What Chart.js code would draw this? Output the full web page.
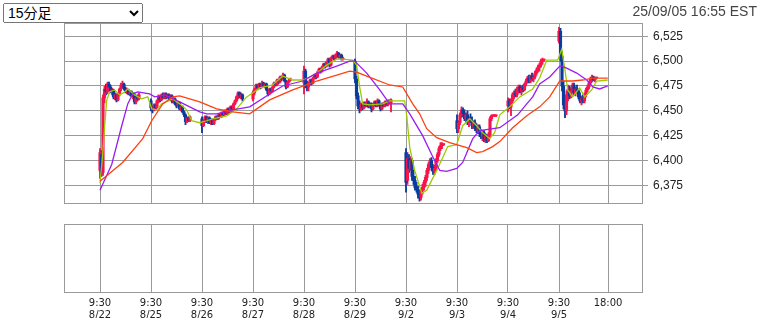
<!DOCTYPE html>
<html>
<head>
<meta charset="utf-8">
<script src="https://cdn.jsdelivr.net/npm/chart.js@4.4.1/dist/chart.umd.min.js"></script>
<style>
  body { margin: 0; background: #fff; width: 762px; height: 318px; overflow: hidden; position: relative; font-family: "Liberation Sans", Arial, sans-serif; }
  #span { position: absolute; left: 3px; top: 3px; width: 140px; height: 20px; font-size: 14px; font-family: "Liberation Sans", "Noto Sans CJK JP", sans-serif; z-index: 2; }
  #stamp { position: absolute; right: 5px; top: 3px; font-size: 14px; color: #444; z-index: 2; }
  #main { position: absolute; left: 0; top: 0; }
  #sub { position: absolute; left: 0; top: 216px; }
</style>
</head>
<body>
<select id="span"><option>15分足</option></select>
<div id="stamp">25/09/05 16:55 EST</div>
<canvas id="main" width="762" height="216"></canvas>
<canvas id="sub" width="762" height="102"></canvas>
<script>
const days = ['8/22', '8/25', '8/26', '8/27', '8/28', '8/29', '9/2', '9/3', '9/4', '9/5'];
const slotsPerDay = 34;      // 15-min slots per day on the axis
const lastTickSlot = 32.7;   // "18:00" mark after the last session
const yTicks = [6375, 6400, 6425, 6450, 6475, 6500, 6525];

// 15分足 [open, high, low, close]
const c0822 = [
  [6390, 6412, 6382, 6408], [6406, 6410, 6384, 6388], [6388, 6466, 6385, 6463], [6463, 6475, 6458, 6472],
  [6472, 6477, 6466, 6469], [6469, 6479, 6467, 6477], [6477, 6479, 6470, 6474], [6474, 6476, 6468, 6470],
  [6470, 6473, 6466, 6471], [6471, 6472, 6462, 6464], [6464, 6468, 6461, 6466], [6466, 6467, 6459, 6461],
  [6461, 6468, 6460, 6467], [6467, 6473, 6465, 6472], [6472, 6478, 6470, 6476], [6476, 6480, 6473, 6477],
  [6477, 6478, 6471, 6472], [6472, 6474, 6468, 6470], [6470, 6473, 6467, 6471], [6471, 6472, 6466, 6467],
  [6467, 6470, 6465, 6469], [6469, 6470, 6464, 6465], [6465, 6468, 6462, 6466], [6466, 6468, 6457, 6459],
  [6459, 6465, 6457, 6463], [6463, 6466, 6460, 6462], [6462, 6468, 6461, 6466]
];
const c0825 = [
  [6460, 6462, 6450, 6453], [6453, 6455, 6448, 6451], [6451, 6457, 6450, 6456], [6456, 6457, 6451, 6453],
  [6453, 6461, 6452, 6460], [6460, 6466, 6458, 6464], [6464, 6465, 6459, 6461], [6461, 6467, 6460, 6466],
  [6466, 6468, 6462, 6463], [6463, 6468, 6462, 6467], [6467, 6468, 6462, 6464], [6464, 6467, 6463, 6466],
  [6466, 6467, 6461, 6462], [6462, 6466, 6460, 6465], [6465, 6466, 6458, 6460], [6460, 6463, 6458, 6462],
  [6462, 6463, 6456, 6457], [6457, 6458, 6453, 6455], [6455, 6459, 6454, 6458], [6458, 6459, 6451, 6452],
  [6452, 6455, 6450, 6454], [6454, 6455, 6448, 6449], [6449, 6450, 6444, 6446], [6446, 6447, 6436, 6439],
  [6439, 6444, 6438, 6443], [6443, 6444, 6439, 6440], [6440, 6445, 6439, 6444]
];
const c0826 = [
  [6442, 6444, 6428, 6435], [6435, 6441, 6434, 6440], [6440, 6445, 6438, 6444], [6444, 6445, 6438, 6439],
  [6439, 6444, 6437, 6443], [6443, 6444, 6437, 6438], [6438, 6442, 6436, 6441], [6441, 6442, 6436, 6437],
  [6437, 6442, 6436, 6441], [6441, 6445, 6440, 6444], [6444, 6445, 6441, 6442], [6442, 6447, 6441, 6446],
  [6446, 6447, 6443, 6444], [6444, 6449, 6443, 6448], [6448, 6449, 6445, 6446], [6446, 6451, 6445, 6450],
  [6450, 6451, 6446, 6447], [6447, 6453, 6446, 6452], [6452, 6453, 6448, 6449], [6449, 6455, 6448, 6454],
  [6454, 6455, 6451, 6452], [6452, 6458, 6451, 6457], [6457, 6461, 6456, 6460], [6460, 6465, 6459, 6464],
  [6464, 6469, 6462, 6468], [6468, 6469, 6463, 6465], [6465, 6468, 6462, 6466], [6466, 6467, 6460, 6462]
];
const c0827 = [
  [6462, 6470, 6460, 6468], [6468, 6473, 6466, 6472], [6472, 6477, 6470, 6476], [6476, 6477, 6471, 6473],
  [6473, 6478, 6472, 6477], [6477, 6478, 6472, 6474], [6474, 6480, 6473, 6478], [6478, 6479, 6474, 6475],
  [6475, 6478, 6473, 6477], [6477, 6478, 6470, 6471], [6471, 6472, 6465, 6467], [6467, 6473, 6466, 6472],
  [6472, 6473, 6468, 6470], [6470, 6475, 6469, 6474], [6474, 6479, 6473, 6478], [6478, 6479, 6475, 6476],
  [6476, 6482, 6475, 6481], [6481, 6482, 6477, 6479], [6479, 6485, 6478, 6484], [6484, 6485, 6480, 6482],
  [6482, 6488, 6481, 6486], [6486, 6487, 6479, 6480], [6480, 6481, 6472, 6474], [6474, 6480, 6473, 6479],
  [6479, 6482, 6478, 6481], [6481, 6483, 6480, 6482]
];
const c0828 = [
  [6478, 6495, 6467, 6490], [6490, 6492, 6473, 6476], [6476, 6480, 6470, 6474], [6474, 6479, 6470, 6477],
  [6477, 6482, 6476, 6481], [6481, 6482, 6476, 6478], [6478, 6484, 6477, 6483], [6483, 6487, 6482, 6486],
  [6486, 6487, 6482, 6484], [6484, 6490, 6483, 6489], [6489, 6493, 6488, 6492], [6492, 6493, 6488, 6490],
  [6490, 6495, 6489, 6494], [6494, 6498, 6493, 6497], [6497, 6498, 6493, 6495], [6495, 6500, 6494, 6499],
  [6499, 6503, 6498, 6502], [6502, 6503, 6494, 6496], [6496, 6504, 6495, 6503], [6503, 6506, 6502, 6505],
  [6505, 6506, 6501, 6503], [6503, 6507, 6502, 6506], [6506, 6510, 6505, 6508], [6508, 6509, 6503, 6504],
  [6504, 6507, 6503, 6506], [6506, 6507, 6501, 6502], [6502, 6504, 6501, 6503]
];
const c0829 = [
  [6500, 6502, 6478, 6482], [6482, 6485, 6462, 6465], [6465, 6468, 6452, 6455], [6455, 6460, 6448, 6452],
  [6452, 6458, 6450, 6456], [6456, 6457, 6451, 6453], [6453, 6459, 6452, 6458], [6458, 6459, 6454, 6455],
  [6455, 6462, 6454, 6459], [6459, 6460, 6453, 6454], [6454, 6458, 6453, 6457], [6457, 6458, 6449, 6452],
  [6452, 6457, 6451, 6456], [6456, 6460, 6455, 6459], [6459, 6460, 6454, 6455], [6455, 6462, 6454, 6460],
  [6460, 6461, 6455, 6456], [6456, 6457, 6450, 6452], [6452, 6458, 6451, 6457], [6457, 6458, 6454, 6455],
  [6455, 6460, 6454, 6459], [6459, 6460, 6455, 6456], [6456, 6461, 6455, 6460], [6460, 6461, 6457, 6458],
  [6458, 6462, 6449, 6461]
];
const c0902 = [
  [6408, 6412, 6368, 6378], [6380, 6408, 6376, 6402], [6402, 6406, 6388, 6392], [6392, 6404, 6390, 6400],
  [6400, 6402, 6380, 6384], [6384, 6390, 6376, 6380], [6380, 6384, 6370, 6373], [6373, 6378, 6368, 6371],
  [6371, 6374, 6362, 6366], [6366, 6370, 6359, 6363], [6363, 6372, 6360, 6370], [6370, 6376, 6366, 6373],
  [6373, 6380, 6370, 6378], [6378, 6385, 6374, 6383], [6383, 6392, 6380, 6390], [6390, 6398, 6387, 6396],
  [6396, 6402, 6393, 6400], [6400, 6403, 6390, 6393], [6393, 6396, 6386, 6389], [6389, 6395, 6386, 6392],
  [6392, 6402, 6390, 6400], [6400, 6408, 6398, 6406], [6406, 6414, 6404, 6412], [6412, 6418, 6410, 6415],
  [6415, 6418, 6412, 6416], [6416, 6417, 6415, 6416]
];
const c0903 = [
  [6440, 6446, 6428, 6432], [6432, 6440, 6428, 6438], [6438, 6448, 6436, 6446], [6446, 6454, 6443, 6451],
  [6451, 6453, 6444, 6447], [6447, 6451, 6440, 6442], [6442, 6448, 6438, 6446], [6446, 6450, 6436, 6438],
  [6438, 6444, 6434, 6442], [6442, 6447, 6438, 6440], [6440, 6444, 6432, 6435], [6435, 6440, 6432, 6438],
  [6438, 6441, 6430, 6433], [6433, 6437, 6428, 6430], [6430, 6436, 6427, 6434], [6434, 6436, 6424, 6427],
  [6427, 6431, 6422, 6425], [6425, 6430, 6420, 6428], [6428, 6430, 6419, 6422], [6422, 6427, 6418, 6424],
  [6424, 6426, 6418, 6420], [6420, 6428, 6419, 6426], [6426, 6444, 6424, 6442], [6442, 6446, 6440, 6445],
  [6445, 6446, 6444, 6445], [6445, 6446, 6444, 6445], [6445, 6446, 6444, 6446]
];
const c0904 = [
  [6455, 6463, 6449, 6460], [6460, 6462, 6452, 6454], [6454, 6462, 6445, 6460], [6460, 6468, 6458, 6466],
  [6466, 6470, 6462, 6468], [6468, 6472, 6464, 6466], [6466, 6474, 6464, 6472], [6472, 6476, 6468, 6474],
  [6474, 6476, 6468, 6470], [6470, 6475, 6466, 6473], [6473, 6476, 6469, 6471], [6471, 6478, 6470, 6477],
  [6477, 6482, 6475, 6480], [6480, 6485, 6478, 6483], [6483, 6486, 6478, 6480], [6480, 6486, 6478, 6485],
  [6485, 6488, 6480, 6482], [6482, 6486, 6479, 6484], [6484, 6490, 6482, 6488], [6488, 6493, 6486, 6491],
  [6491, 6496, 6489, 6494], [6494, 6498, 6490, 6496], [6496, 6502, 6494, 6500], [6500, 6503, 6497, 6501],
  [6501, 6502, 6500, 6501]
];
const c0905 = [
  [6520, 6534, 6518, 6530], [6530, 6533, 6500, 6505], [6505, 6510, 6470, 6475], [6475, 6480, 6452, 6456],
  [6456, 6462, 6443, 6450], [6450, 6470, 6446, 6466], [6466, 6476, 6460, 6472], [6472, 6475, 6462, 6465],
  [6465, 6474, 6463, 6471], [6471, 6478, 6468, 6476], [6476, 6478, 6466, 6468], [6468, 6474, 6465, 6472],
  [6472, 6476, 6468, 6470], [6470, 6472, 6462, 6464], [6464, 6468, 6458, 6460], [6460, 6465, 6456, 6462],
  [6462, 6466, 6458, 6460], [6460, 6468, 6458, 6466], [6466, 6473, 6464, 6471], [6471, 6476, 6469, 6474],
  [6474, 6480, 6472, 6478], [6478, 6484, 6476, 6482], [6482, 6486, 6479, 6484], [6484, 6485, 6480, 6481],
  [6481, 6484, 6479, 6483], [6483, 6484, 6482, 6483]
];
const dayCandles = [c0822, c0825, c0826, c0827, c0828, c0829, c0902, c0903, c0904, c0905];

// moving averages [slot, price]
const maFast = [
  [0, 6377], [1.8, 6406], [3.1, 6435], [4.5, 6461], [6.5, 6469], [9.8, 6471], [13.1, 6466], [16.5, 6469],
  [18.5, 6472], [23.1, 6466], [27.8, 6462], [31.8, 6464], [34.5, 6452], [37.8, 6451], [41.1, 6457], [48.5, 6462],
  [53.1, 6457], [57.8, 6451], [61.1, 6440], [66.5, 6438], [71.1, 6440], [75.1, 6442], [84.5, 6445], [91.1, 6452],
  [97.8, 6464], [99.8, 6466], [106.5, 6473], [115.1, 6476], [121.8, 6485], [128.5, 6481], [135.1, 6481], [138.5, 6483],
  [144.5, 6488], [151.1, 6496], [157.8, 6502], [161.8, 6502], [168.5, 6501], [171.1, 6496], [173.1, 6474], [175.1, 6457],
  [179.8, 6456], [188.5, 6457], [193.1, 6460], [203.1, 6460], [204.5, 6445], [206.5, 6413], [209.8, 6390], [214.5, 6367],
  [217.8, 6370], [221.1, 6380], [224.5, 6390], [228.5, 6403], [231.8, 6414], [237.8, 6416], [241.8, 6435], [246.5, 6442],
  [251.1, 6435], [255.1, 6428], [259.8, 6422], [263.1, 6428], [266.5, 6446], [273.1, 6454], [279.8, 6464], [288.5, 6472],
  [293.1, 6483], [297.8, 6501], [305.1, 6501], [307.8, 6512], [309.8, 6493], [311.8, 6471], [315.1, 6464], [319.8, 6473],
  [323.1, 6464], [327.8, 6471], [331.1, 6480], [338.5, 6481]
];
const maMid = [
  [0, 6370], [7.8, 6396], [14.5, 6435], [18.5, 6457], [21.8, 6467], [25.1, 6469], [33.1, 6467], [36.5, 6464],
  [43.1, 6466], [53.1, 6459], [66.5, 6449], [71.1, 6447], [77.8, 6447], [88.5, 6451], [99.8, 6454], [113.1, 6467],
  [121.8, 6475], [135.1, 6480], [144.5, 6488], [157.8, 6495], [166.5, 6500], [169.8, 6500], [177.8, 6488], [186.5, 6471],
  [193.1, 6457], [201.8, 6457], [206.5, 6447], [215.1, 6425], [221.1, 6406], [226.5, 6390], [231.1, 6389], [237.8, 6392],
  [241.8, 6398], [248.5, 6422], [253.1, 6430], [266.5, 6433], [278.5, 6446], [284.5, 6457], [288.5, 6464], [293.1, 6477],
  [299.8, 6484], [306.5, 6495], [307.8, 6495], [311.1, 6493], [317.8, 6488], [324.5, 6481], [328.5, 6474], [333.1, 6472],
  [338.5, 6475]
];
const maSlow = [
  [0, 6379], [15.1, 6398], [28.5, 6422], [34.5, 6440], [41.8, 6457], [48.5, 6464], [53.1, 6465], [66.5, 6459],
  [77.8, 6452], [88.5, 6449], [99.8, 6447], [113.1, 6461], [128.5, 6471], [144.5, 6480], [157.8, 6486], [166.5, 6490],
  [171.1, 6489], [177.8, 6485], [193.1, 6476], [201.8, 6474], [208.5, 6457], [213.1, 6447], [217.8, 6432], [224.5, 6423],
  [233.1, 6418], [244.5, 6413], [251.1, 6408], [255.1, 6409], [261.8, 6414], [266.5, 6419], [275.1, 6433], [284.5, 6445],
  [293.1, 6454], [299.8, 6464], [306.5, 6480], [315.1, 6480], [321.8, 6481], [328.5, 6483], [338.5, 6483]
];

const upColor = '#f8144b';
const downColor = '#0a3c9e';
const gridColor = '#9a9a9a';

const candles = [];
dayCandles.forEach((arr, d) => {
  arr.forEach((k, i) => {
    candles.push({ x: d * slotsPerDay + i, o: k[0], h: k[1], l: k[2], c: k[3] });
  });
});

const xTicks = days.map((d, i) => ({ value: i * slotsPerDay, label: ['9:30', d] }));
xTicks.push({ value: (days.length - 1) * slotsPerDay + lastTickSlot, label: ['18:00', ''] });

const xMin = -24;
const xMax = 362;

const framePlugin = {
  id: 'frame',
  afterDraw(chart) {
    const a = chart.chartArea;
    const ctx = chart.ctx;
    ctx.save();
    ctx.strokeStyle = gridColor;
    ctx.lineWidth = 1;
    ctx.strokeRect(Math.round(a.left) + 0.5, Math.round(a.top) + 0.5,
      Math.round(a.right - a.left) - 1, Math.round(a.bottom - a.top) - 1);
    ctx.restore();
  }
};

const toPts = arr => arr.map(p => ({ x: p[0], y: p[1] }));
const candleColor = c => (c.raw && c.raw.up ? upColor : downColor);

function xScale(showLabels) {
  return {
    type: 'linear',
    min: xMin,
    max: xMax,
    offset: false,
    afterBuildTicks: s => { s.ticks = xTicks.map(t => ({ value: t.value })); },
    afterFit: s => { s.height = showLabels ? 25 : 0; },
    grid: { color: gridColor, drawTicks: false, offset: false },
    border: { display: false },
    ticks: {
      display: showLabels,
      autoSkip: false,
      maxRotation: 0,
      padding: 5,
      color: '#222',
      font: { family: 'DejaVu Sans', size: 10, lineHeight: 1.17 },
      callback: v => {
        const t = xTicks.find(k => Math.abs(k.value - v) < 0.01);
        return t ? t.label : '';
      }
    }
  };
}

new Chart(document.getElementById('main'), {
  type: 'bar',
  data: {
    datasets: [
      { type: 'line', data: toPts(maSlow), borderColor: '#ff4010', borderWidth: 1.3, pointRadius: 0, order: 0 },
      { type: 'line', data: toPts(maMid), borderColor: '#9b1cf2', borderWidth: 1.3, pointRadius: 0, order: 0 },
      { type: 'line', data: toPts(maFast), borderColor: '#9ccc00', borderWidth: 1.3, pointRadius: 0, order: 0 },
      {
        data: candles.map(k => ({ x: k.x, y: [k.o, k.c], up: k.c >= k.o })),
        backgroundColor: candleColor, barThickness: 2.5, minBarLength: 1, grouped: false, order: 1
      },
      {
        data: candles.map(k => ({ x: k.x, y: [k.l, k.h], up: k.c >= k.o })),
        backgroundColor: candleColor, barThickness: 1.2, grouped: false, order: 2
      }
    ]
  },
  options: {
    responsive: false,
    animation: false,
    layout: { padding: { left: 64, top: 23, right: 0, bottom: 3 } },
    plugins: { legend: { display: false }, tooltip: { enabled: false } },
    scales: {
      x: xScale(false),
      y: {
        position: 'right',
        min: 6356.4,
        max: 6538.4,
        afterBuildTicks: s => { s.ticks = yTicks.map(v => ({ value: v })); },
        afterFit: s => { s.width = 119; },
        grid: { color: gridColor, tickLength: 5 },
        border: { display: false },
        ticks: {
          padding: 5,
          color: '#222',
          font: { family: 'Liberation Sans', size: 12 },
          callback: v => v.toLocaleString('en-US')
        }
      }
    }
  },
  plugins: [framePlugin]
});

new Chart(document.getElementById('sub'), {
  type: 'bar',
  data: { datasets: [{ data: [] }] },
  options: {
    responsive: false,
    animation: false,
    layout: { padding: { left: 64, top: 8, right: 0, bottom: 0 } },
    plugins: { legend: { display: false }, tooltip: { enabled: false } },
    scales: {
      x: xScale(true),
      y: {
        position: 'right',
        min: 0,
        max: 1,
        afterFit: s => { s.width = 119; },
        grid: { display: false },
        border: { display: false },
        ticks: { display: false }
      }
    }
  },
  plugins: [framePlugin]
});
</script>
</body>
</html>
